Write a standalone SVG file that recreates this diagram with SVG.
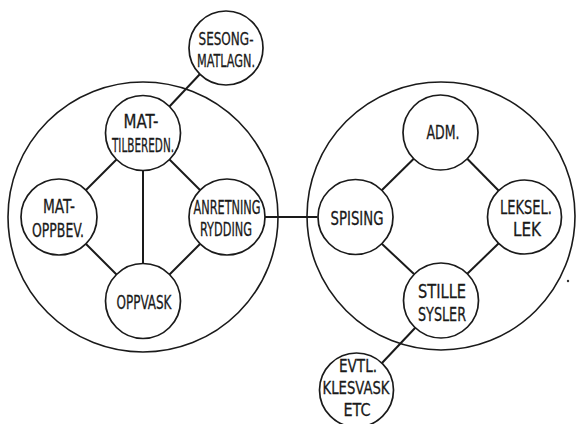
<svg xmlns="http://www.w3.org/2000/svg" width="576" height="424" viewBox="0 0 576 424">
<style>
.big{fill:none;stroke:#1a1a1a;stroke-width:1.6}
.node circle{fill:#fff;stroke:#1a1a1a;stroke-width:1.7}
.node text{font-family:"DejaVu Sans Condensed","Liberation Sans Narrow","DejaVu Sans",sans-serif;font-size:20px;fill:#1a1a1a;stroke:#1a1a1a;stroke-width:0.3;text-anchor:middle}
.node text.sm{font-size:18px}
.conn line{stroke:#1a1a1a;stroke-width:2}
</style>
<rect width="576" height="424" fill="#fff"/>
<g id="groups">
<circle id="kitchen-zone" class="big" cx="143" cy="217" r="135"/>
<circle id="living-zone" class="big" cx="441" cy="216" r="134"/>
</g>
<g id="connectors" class="conn">
<line x1="200" y1="74" x2="169" y2="107"/>
<line x1="116.5" y1="159.5" x2="85.5" y2="190.5"/>
<line x1="169.5" y1="159.5" x2="200.5" y2="190.5"/>
<line x1="143" y1="170.5" x2="143" y2="263.5"/>
<line x1="85.5" y1="243.5" x2="116.5" y2="274.5"/>
<line x1="200.5" y1="243.5" x2="169.5" y2="274.5"/>
<line x1="264.5" y1="217" x2="317.5" y2="217"/>
<line x1="414" y1="158.5" x2="381.5" y2="190.5"/>
<line x1="467" y1="158.5" x2="498.5" y2="190.5"/>
<line x1="381.5" y1="243.5" x2="414" y2="274"/>
<line x1="498.5" y1="243.5" x2="467" y2="274"/>
<line x1="415.5" y1="327.5" x2="382" y2="363"/>
</g>
<g id="n-sesong" class="node"><circle cx="226" cy="48" r="37"/><text class="sm" x="226" y="45" textLength="55" lengthAdjust="spacingAndGlyphs">SESONG-</text><text class="sm" x="226" y="67" textLength="58" lengthAdjust="spacingAndGlyphs">MATLAGN.</text></g>
<g id="n-tilbered" class="node"><circle cx="143" cy="133" r="37.5"/><text x="141" y="128" textLength="35" lengthAdjust="spacingAndGlyphs">MAT-</text><text x="143" y="152" textLength="62" lengthAdjust="spacingAndGlyphs">TILBEREDN.</text></g>
<g id="n-oppbev" class="node"><circle cx="59" cy="217" r="38"/><text x="59" y="213" textLength="32" lengthAdjust="spacingAndGlyphs">MAT-</text><text x="58" y="237" textLength="52" lengthAdjust="spacingAndGlyphs">OPPBEV.</text></g>
<g id="n-anretning" class="node"><circle cx="227" cy="217" r="38"/><text x="227" y="214" textLength="67" lengthAdjust="spacingAndGlyphs">ANRETNING</text><text x="226" y="236" textLength="52" lengthAdjust="spacingAndGlyphs">RYDDING</text></g>
<g id="n-oppvask" class="node"><circle cx="143" cy="301" r="37.5"/><text x="144" y="309" textLength="55" lengthAdjust="spacingAndGlyphs">OPPVASK</text></g>
<g id="n-adm" class="node"><circle cx="440.5" cy="132.5" r="37.5"/><text x="443" y="139" textLength="33" lengthAdjust="spacingAndGlyphs">ADM.</text></g>
<g id="n-spising" class="node"><circle cx="355.5" cy="217" r="37.5"/><text x="357" y="225" textLength="53" lengthAdjust="spacingAndGlyphs">SPISING</text></g>
<g id="n-leksel" class="node"><circle cx="524.5" cy="217" r="37"/><text x="526" y="214" textLength="52" lengthAdjust="spacingAndGlyphs">LEKSEL.</text><text x="527" y="236" textLength="28" lengthAdjust="spacingAndGlyphs">LEK</text></g>
<g id="n-stille" class="node"><circle cx="441" cy="300.5" r="37.5"/><text x="442" y="298" textLength="48" lengthAdjust="spacingAndGlyphs">STILLE</text><text x="442" y="321" textLength="48" lengthAdjust="spacingAndGlyphs">SYSLER</text></g>
<g id="n-evtl" class="node"><circle cx="356.5" cy="390" r="37"/><text class="sm" x="358" y="372" textLength="38" lengthAdjust="spacingAndGlyphs">EVTL.</text><text class="sm" x="356" y="394" textLength="67" lengthAdjust="spacingAndGlyphs">KLESVASK</text><text class="sm" x="357" y="416" textLength="27" lengthAdjust="spacingAndGlyphs">ETC</text></g>
<circle cx="568" cy="281" r="1.2" fill="#333"/>
</svg>
